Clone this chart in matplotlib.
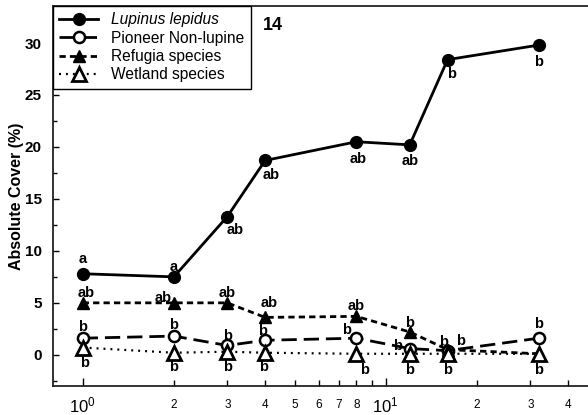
import matplotlib
matplotlib.use("Agg")
import matplotlib.pyplot as plt
from matplotlib.ticker import FixedLocator, FixedFormatter

plt.rcParams['font.family'] = ['Liberation Sans', 'DejaVu Sans']
plt.rcParams['mathtext.fontset'] = 'custom'
plt.rcParams['mathtext.rm'] = 'Liberation Sans'
plt.rcParams['mathtext.it'] = 'Liberation Sans:italic'
plt.rcParams['lines.scale_dashes'] = False

# ---- data ----
x_vals = [1, 2, 3, 4, 8, 12, 16, 32]
lupinus = [7.8, 7.5, 13.3, 18.7, 20.5, 20.2, 28.4, 29.8]
pioneer = [1.6, 1.8, 0.9, 1.4, 1.6, 0.6, 0.4, 1.6]
refugia = [5.0, 5.0, 5.0, 3.6, 3.7, 2.2, 0.5, 0.1]
wetland = [0.7, 0.2, 0.3, 0.2, 0.1, 0.1, 0.1, 0.1]

series_names = ['Lupinus lepidus', 'Pioneer Non-lupine', 'Refugia species', 'Wetland species']

lupinus_letters = ['a', 'a', 'ab', 'ab', 'ab', 'ab', 'b', 'b']
pioneer_letters = ['b', 'b', 'b', 'b', 'b', 'b', 'b', 'b']
refugia_letters = ['ab', 'ab', 'ab', 'ab', 'ab', 'b', 'b', '']
wetland_letters = ['b', 'b', 'b', 'b', 'b', 'b', 'b', 'b']

panel_label = '14'
y_label = 'Absolute Cover (%)'
y_ticks = [0, 5, 10, 15, 20, 25, 30]
x_major = [1, 10]
x_major_labels = [r'$10^0$', r'$10^1$']
x_minor = [2, 3, 4, 5, 6, 7, 8, 9, 20, 30, 40]
x_minor_labels = ['2', '3', '4', '5', '6', '7', '8', '', '2', '3', '4']

# ---- label offsets in pixels (style) ----
lup_off = [(0, 15), (0, 10), (8, -13), (6, -15), (2, -17), (0, -16), (4, -14), (0, -17)]
pio_off = [(0, 11), (0, 11), (0, 9), (-3, 9), (-10, 8), (-12, 3), (13, 10), (0, 14)]
ref_off = [(3, 10), (-11, 5), (0, 10), (4, 14), (0, 10), (0, 9), (-4, 8), (0, 0)]
wet_off = [(2, -15), (0, -14), (0, -15), (-2, -14), (8, -16), (0, -16), (0, -16), (0, -16)]

fig = plt.figure(figsize=(5.88, 4.15), dpi=100)
ax = fig.add_axes([53 / 588, (415 - 386) / 415, 1 - 53 / 588, (386 - 6) / 415])
ax.set_xscale('log')

K = 'black'
l1, = ax.plot(x_vals, lupinus, color=K, lw=2.0, marker='o', ms=8.5, mfc=K, mec=K, zorder=4)
l2, = ax.plot(x_vals, pioneer, color=K, lw=2.0, dashes=(11, 5), marker='o', ms=8, mfc='white',
              mec=K, mew=1.8, zorder=3)
l3, = ax.plot(x_vals, refugia, color=K, lw=2.0, dashes=(4.5, 3), marker='^', ms=9, mfc=K, mec=K,
              zorder=3)
l4, = ax.plot(x_vals, wetland, color=K, lw=1.6, dashes=(1.4, 3.6), marker='^', ms=9.5, mfc='white',
              mec=K, mew=2, zorder=3.5)

def put(xs, ys, letters, offs):
    for xv, yv, t, (dx, dy) in zip(xs, ys, letters, offs):
        if t:
            ax.annotate(t, (xv, yv), xytext=(dx * 0.72, dy * 0.72), textcoords='offset points',
                        ha='center', va='center', fontsize=10.5, fontweight='bold', zorder=6)

put(x_vals, lupinus, lupinus_letters, lup_off)
put(x_vals, pioneer, pioneer_letters, pio_off)
put(x_vals, refugia, refugia_letters, ref_off)
put(x_vals, wetland, wetland_letters, wet_off)

ax.set_xlim(0.798, 46.5)
ax.set_ylim(-3, 33.56)

ax.xaxis.set_major_locator(FixedLocator(x_major))
ax.xaxis.set_minor_locator(FixedLocator(x_minor))
ax.xaxis.set_major_formatter(FixedFormatter(x_major_labels))
ax.xaxis.set_minor_formatter(FixedFormatter(x_minor_labels))
ax.tick_params(axis='x', which='major', direction='in', length=6, width=1, labelsize=12, pad=7)
ax.tick_params(axis='x', which='minor', direction='in', length=4, width=1, labelsize=8.5, pad=9)

ax.set_yticks(y_ticks)
ax.set_yticks([-2.5, 2.5, 7.5, 12.5, 17.5, 22.5, 27.5, 32.5], minor=True)
ax.tick_params(axis='y', which='major', direction='in', length=4, width=1, labelsize=11, pad=8)
ax.tick_params(axis='y', which='minor', direction='in', length=3, width=1)
for lab in ax.get_yticklabels():
    lab.set_fontweight('bold')

for s in ['left', 'bottom', 'top']:
    ax.spines[s].set_linewidth(1.3)
    ax.spines[s].set_color('#222222')
ax.spines['right'].set_visible(False)

ax.set_ylabel(y_label, fontsize=11.5, fontweight='bold', labelpad=0.5)

fig.text(263 / 588, 1 - 25 / 415, panel_label, fontsize=13, fontweight='bold', va='center', ha='left')

leg = ax.legend([l1, l2, l3, l4], series_names, loc='upper left', bbox_to_anchor=(0, 1),
                borderaxespad=0, fontsize=11.2, numpoints=1, handlelength=2.5,
                handletextpad=0.85, labelspacing=0.22, borderpad=0.4, fancybox=False,
                framealpha=1, edgecolor='black')
leg.get_frame().set_linewidth(1.0)
leg.get_texts()[0].set_fontstyle('italic')

fig.savefig('out.png', dpi=100)
